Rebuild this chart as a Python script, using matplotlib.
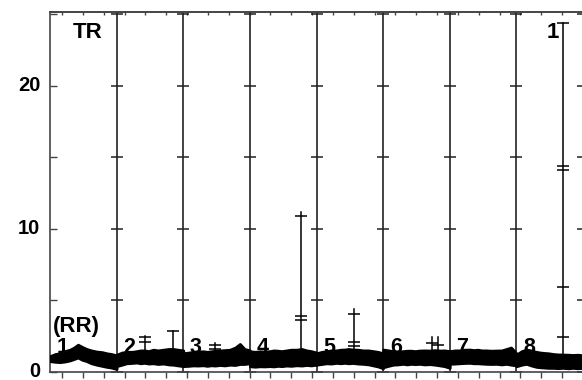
import numpy as np
import matplotlib.pyplot as plt

plt.rcParams['font.family'] = ['Liberation Sans', 'DejaVu Sans']
plt.rcParams['font.weight'] = 'bold'

# RR trace per epoch: upper / lower edge of the dense band, read at fractions of each epoch
frac = [0, .08, .15, .22, .3, .36, .42, .48, .55, .62, .7, .78, .85, .92, 1]
rr_upper = [
    [1.10, 1.25, 1.30, 1.45, 1.55, 1.70, 1.90, 1.75, 1.60, 1.50, 1.42, 1.38, 1.30, 1.25, 1.15],
    [1.20, 1.35, 1.40, 1.38, 1.45, 1.50, 1.50, 1.45, 1.55, 1.50, 1.55, 1.60, 1.60, 1.55, 1.50],
    [1.30, 1.35, 1.40, 1.42, 1.44, 1.40, 1.44, 1.48, 1.50, 1.52, 1.55, 1.70, 1.95, 1.60, 1.50],
    [1.44, 1.40, 1.44, 1.42, 1.45, 1.50, 1.48, 1.45, 1.50, 1.55, 1.55, 1.60, 1.50, 1.45, 1.35],
    [1.30, 1.40, 1.45, 1.50, 1.50, 1.55, 1.56, 1.60, 1.56, 1.55, 1.50, 1.50, 1.45, 1.40, 1.30],
    [1.56, 1.50, 1.45, 1.42, 1.45, 1.48, 1.48, 1.45, 1.49, 1.50, 1.49, 1.52, 1.49, 1.50, 1.45],
    [1.45, 1.50, 1.50, 1.55, 1.56, 1.52, 1.55, 1.50, 1.50, 1.48, 1.49, 1.50, 1.60, 1.70, 1.30],
    [1.20, 1.45, 1.56, 1.50, 1.40, 1.35, 1.32, 1.30, 1.25, 1.22, 1.21, 1.20, 1.18, 1.20, 1.16],
]
rr_lower = [
    [0.75, 0.70, 0.68, 0.72, 0.80, 0.90, 1.00, 0.85, 0.75, 0.60, 0.50, 0.42, 0.35, 0.30, 0.20],
    [0.40, 0.50, 0.60, 0.62, 0.65, 0.60, 0.63, 0.58, 0.60, 0.55, 0.58, 0.52, 0.50, 0.45, 0.40],
    [0.40, 0.42, 0.45, 0.44, 0.46, 0.42, 0.46, 0.44, 0.48, 0.45, 0.50, 0.48, 0.55, 0.55, 0.60],
    [0.39, 0.36, 0.39, 0.38, 0.40, 0.38, 0.42, 0.40, 0.44, 0.42, 0.46, 0.44, 0.48, 0.45, 0.50],
    [0.50, 0.55, 0.60, 0.58, 0.63, 0.60, 0.63, 0.60, 0.62, 0.58, 0.56, 0.52, 0.45, 0.38, 0.25],
    [0.32, 0.42, 0.50, 0.52, 0.56, 0.52, 0.56, 0.54, 0.56, 0.52, 0.54, 0.50, 0.45, 0.40, 0.28],
    [0.56, 0.58, 0.60, 0.62, 0.63, 0.60, 0.60, 0.58, 0.56, 0.55, 0.56, 0.52, 0.56, 0.50, 0.45],
    [0.39, 0.50, 0.56, 0.45, 0.35, 0.32, 0.30, 0.28, 0.28, 0.26, 0.28, 0.25, 0.28, 0.25, 0.28],
]
epoch_labels = ['1', '2', '3', '4', '5', '6', '7', '8']

# artefact spikes (position in epochs, top value, marked points)
spike_x = [1.43, 1.85, 2.48, 3.77, 4.56, 5.74, 5.82, 7.70]
spike_top = [2.5, 2.88, 2.05, 11.2, 4.4, 2.45, 2.45, 24.4]
spike_marks = [[2.46, 2.11], [2.85], [1.9, 1.63], [10.9, 3.9, 3.65],
               [4.07, 2.06, 1.8], [2.05], [1.9], [24.4, 14.4, 14.1, 5.95, 2.46]]

grid_y = [0, 5, 10, 15, 20, 25]
minor_x = np.arange(0.18, 8, 0.3128)

fig = plt.figure(figsize=(5.82, 3.80), dpi=100)
ax = fig.add_axes([50 / 582, 7.7 / 380, 533 / 582, 360.3 / 380])
ax.set_xlim(0, 8)
ax.set_ylim(-0.03, 25.14)

# epoch separators with + marks
for k in range(1, 9):
    ax.axvline(k, color='#222222', lw=1.2, zorder=1)
    ax.plot([k] * len(grid_y), grid_y, ls='none', marker='_', ms=9, mew=1.1,
            color='#222222', clip_on=False, zorder=1)

# epoch numbers (partly hidden under the trace)
for i, lab in enumerate(epoch_labels):
    ax.text(i + 0.1, 1.3, lab, fontsize=15.5, fontweight='bold', ha='left',
            va='baseline', zorder=2)

# RR band
for i in range(8):
    xs = i + np.array(frac)
    ax.fill_between(xs, rr_lower[i], rr_upper[i], color='black', lw=2,
                    edgecolor='black', zorder=3)

# spikes
for sx, top, marks in zip(spike_x, spike_top, spike_marks):
    ax.plot([sx, sx], [1.2, top], color='black', lw=1.1, zorder=3)
    ax.plot([sx] * len(marks), marks, ls='none', marker='_', ms=9, mew=1.1,
            color='black', zorder=3)

ax.text(0.56, 23.7, 'TR', fontsize=16, fontweight='bold', ha='center', va='center')
ax.text(0.40, 3.15, '(RR)', fontsize=16, fontweight='bold', ha='center', va='center', zorder=4)
ax.text(7.55, 23.7, '1', fontsize=16, fontweight='bold', ha='center', va='center')

# axes styling
ax.spines['right'].set_visible(False)
for s in ['left', 'top', 'bottom']:
    ax.spines[s].set_color('#444444')
    ax.spines[s].set_linewidth(1.2)

ax.set_yticks([0, 10, 20])
ax.set_yticks([5, 15, 25], minor=True)
ax.tick_params(axis='y', which='both', direction='in', length=5, width=1,
               labelsize=14.5, pad=7, color='#444444')
ax.set_xticks([])
ax.set_xticks(minor_x, minor=True)
ax.tick_params(axis='x', which='minor', direction='out', length=4.5, width=1,
               color='#444444')
top = ax.secondary_xaxis('top')
top.set_xticks([])
top.set_xticks(minor_x, minor=True)
top.tick_params(axis='x', which='minor', direction='in', length=2.5, width=1,
                color='#444444')
top.spines['top'].set_color('#444444')
top.spines['top'].set_linewidth(1.2)
for lbl in ax.get_yticklabels():
    lbl.set_fontweight('bold')
    lbl.set_verticalalignment('center')

fig.savefig('out.png', dpi=100)
